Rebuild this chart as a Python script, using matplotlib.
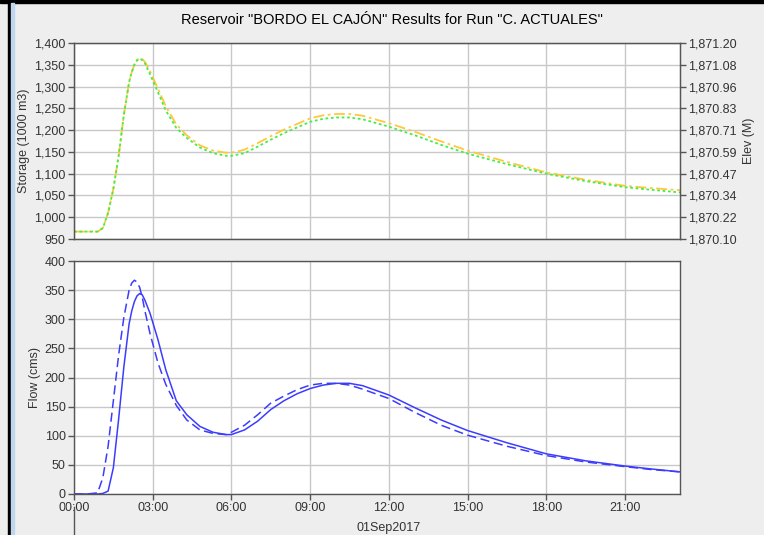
import numpy as np
import matplotlib
matplotlib.use("Agg")
import matplotlib.pyplot as plt
from matplotlib.ticker import FuncFormatter, FixedLocator
from matplotlib.patches import Rectangle
from matplotlib.lines import Line2D
import matplotlib.transforms as mtransforms

plt.rcParams['font.family'] = ['Liberation Sans', 'DejaVu Sans']

# --- data (hours after 01Sep2017 00:00) ---
hours = [0.0, 0.5, 0.9, 1.1, 1.3, 1.5, 1.7, 1.9, 2.1, 2.2, 2.3, 2.4, 2.5, 2.6,
         2.7, 2.9, 3.2, 3.5, 3.9, 4.3, 4.8, 5.3, 5.8, 6.0, 6.5, 7.0, 7.5, 8.0,
         8.5, 9.0, 9.5, 10.0, 10.5, 11.0, 12.0, 13.0, 14.0, 15.0, 16.5, 18.0,
         19.5, 21.0, 22.0, 23.1]

storage = [967, 967, 967, 975, 1010, 1065, 1140, 1235, 1310, 1333, 1350, 1361,
           1365, 1363, 1357, 1335, 1295, 1255, 1213, 1188, 1165, 1153, 1148,
           1148, 1155, 1170, 1186, 1201, 1214, 1227, 1234, 1237, 1237, 1233,
           1216, 1196, 1174, 1153, 1127, 1103, 1086, 1072, 1067, 1062]

elev_as_storage = [967, 967, 967, 975, 1010, 1065, 1140, 1235, 1310, 1333,
                   1350, 1360, 1364, 1361, 1354, 1328, 1287, 1245, 1205, 1182,
                   1160, 1147, 1141, 1141, 1147, 1162, 1178, 1193, 1206, 1219,
                   1226, 1229, 1229, 1225, 1208, 1188, 1166, 1146, 1122, 1100,
                   1083, 1069, 1063, 1057]

inflow = [0, 0, 2, 28, 82, 160, 238, 303, 350, 362, 367, 364, 355, 338, 315,
          275, 225, 188, 152, 127, 110, 104, 102, 106, 118, 136, 156, 168, 179,
          187, 190, 190, 187, 180, 164, 140, 118, 101, 82, 66, 55, 47, 42, 38]

outflow = [0, 0, 0, 1, 5, 45, 128, 218, 292, 314, 330, 340, 344, 342, 333,
           310, 265, 213, 160, 136, 116, 106, 102, 102, 110, 125, 145, 160,
           172, 181, 187, 190, 190, 186, 170, 148, 127, 109, 88, 69, 57, 48,
           43, 38]

x_ticks = [0, 3, 6, 9, 12, 15, 18, 21]
stor_ticks = [950, 1000, 1050, 1100, 1150, 1200, 1250, 1300, 1350, 1400]
elev_lo, elev_hi = 1870.10, 1871.20
flow_ticks = [0, 50, 100, 150, 200, 250, 300, 350, 400]
day_label = "01Sep2017"

BG = '#EEEEEE'
GRID = '#C8C8C8'
TXT = '#333333'
SPINE = '#555555'

fig = plt.figure(figsize=(7.64, 5.35), dpi=100)
fig.patch.set_facecolor(BG)

# window frame bits
fig.patches.append(Rectangle((0, 1 - 3 / 535), 1, 3 / 535, transform=fig.transFigure,
                             color='black', zorder=0))
fig.patches.append(Rectangle((8 / 764, 0), 3 / 764, 1, transform=fig.transFigure,
                             color='black', zorder=0))
fig.patches.append(Rectangle((11 / 764, 0), 3 / 764, 1 - 3 / 535, transform=fig.transFigure,
                             color='#BFD7EE', zorder=0))

x0, x1 = 74 / 764, 680 / 764
ax1 = fig.add_axes([x0, 1 - 239 / 535, x1 - x0, (239 - 43) / 535])
ax2 = fig.add_axes([x0, 1 - 494 / 535, x1 - x0, (494 - 261) / 535], sharex=ax1)


def style(ax):
    ax.set_facecolor('white')
    for s in ax.spines.values():
        s.set_color(SPINE)
        s.set_linewidth(1.0)
    ax.grid(True, color=GRID, lw=1.0)
    ax.set_axisbelow(True)
    ax.tick_params(direction='out', length=4, width=1, color=SPINE,
                   labelcolor=TXT, labelsize=9, pad=2)


# ---- storage / elevation ----
style(ax1)
ax1.plot(hours, storage, color='#FFC83C', lw=1.3, ls=(0, (6, 2, 1.5, 2)))
ax1.plot(hours, elev_as_storage, color='#44EE44', lw=1.3, ls=(0, (1.5, 1.5)))
ax1.set_ylim(950, 1400)
ax1.yaxis.set_major_locator(FixedLocator(stor_ticks))
ax1.yaxis.set_major_formatter(FuncFormatter(lambda v, p: f'{v:,.0f}'))
ax1.set_ylabel('Storage (1000 m3)', color=TXT, fontsize=9, labelpad=3)
ax1.tick_params(axis='x', length=0, labelbottom=False)

ax1r = ax1.twinx()
ax1r.set_ylim(elev_lo, elev_hi)
ax1r.yaxis.set_major_locator(FixedLocator(np.linspace(elev_lo, elev_hi, 10)))
ax1r.yaxis.set_major_formatter(FuncFormatter(lambda v, p: f'{v:,.2f}'))
ax1r.tick_params(direction='out', length=4, width=1, color=SPINE,
                 labelcolor=TXT, labelsize=9, pad=2)
for s in ax1r.spines.values():
    s.set_color(SPINE)
ax1r.set_ylabel('Elev (M)', color=TXT, fontsize=9, labelpad=4)

# ---- flow ----
style(ax2)
ax2.plot(hours, inflow, color='#3C3CFF', lw=1.1, ls=(0, (6, 3)))
ax2.plot(hours, outflow, color='#3C3CFF', lw=1.1)
ax2.set_ylim(0, 400)
ax2.yaxis.set_major_locator(FixedLocator(flow_ticks))
ax2.set_ylabel('Flow (cms)', color=TXT, fontsize=9, labelpad=3)

ax2.set_xlim(0, 23.1)
ax2.xaxis.set_major_locator(FixedLocator(x_ticks))
ax2.xaxis.set_major_formatter(FuncFormatter(lambda v, p: f'{int(v):02d}:00'))

trans = mtransforms.blended_transform_factory(ax2.transData, fig.transFigure)
ax2.text(12, 1 - 528 / 535, day_label, transform=trans, ha='center', va='center',
         fontsize=9, color=TXT)
fig.lines.append(Line2D([x0, x0], [0, 1 - 507 / 535], transform=fig.transFigure,
                        color=SPINE, lw=1))

fig.text(392 / 764, 1 - 20 / 535,
         'Reservoir "BORDO EL CAJÓN" Results for Run "C. ACTUALES"',
         ha='center', va='center', fontsize=10.5, color='black')

fig.savefig('out.png', dpi=100, facecolor=BG)
